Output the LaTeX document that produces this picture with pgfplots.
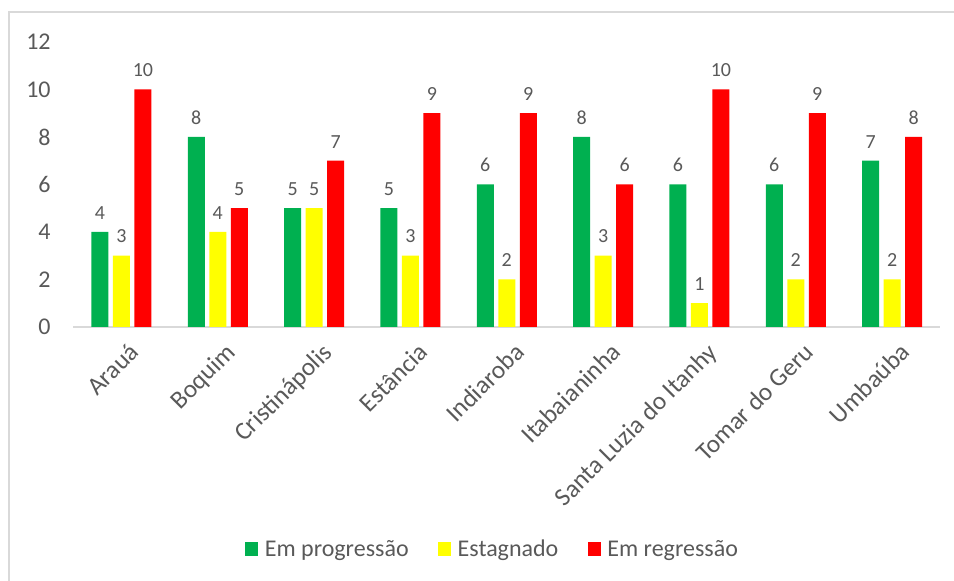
\documentclass[border=0pt]{standalone}
\usepackage{pgfplots}
\pgfplotsset{compat=1.18}
\usepackage{fontspec}
\setmainfont{Carlito}
\definecolor{cgreen}{HTML}{00B050}
\definecolor{cyellow}{HTML}{FFFF00}
\definecolor{cred}{HTML}{FF0000}
\definecolor{tgray}{HTML}{595959}
\definecolor{lgray}{HTML}{D9D9D9}
\begin{document}
\begin{tikzpicture}[x=0.75pt,y=0.75pt]
\path[use as bounding box] (-73.3,-254) rectangle (880.7,327);
\draw[color=lgray, line width=1pt] (-64.3,-270) -- (-64.3,315) -- (900,315);
\begin{axis}[
  at={(0pt,0pt)}, anchor=south west,
  scale only axis, width=650.25pt, height=213.75pt,
  xmin=-0.5, xmax=8.5, ymin=0, ymax=12,
  xtick={0,...,8},
  xticklabels={Arauá, Boquim, Cristinápolis, Estância, Indiaroba, Itabaianinha, Santa Luzia do Itanhy, Tomar do Geru, Umbaúba},
  ytick={0,2,...,12},
  major tick length=0pt,
  axis x line*=bottom,
  axis y line*=left,
  y axis line style={draw=none},
  x axis line style={draw=lgray, line width=1.2pt},
  /pgf/number format/assume math mode=true,
  yticklabel style={font=\fontsize{18}{21}\selectfont, text=tgray, anchor=east, xshift=-13.5pt},
  xticklabel style={font=\fontsize{19}{22}\selectfont, text=tgray, rotate=45, anchor=north east, inner sep=2pt, xshift=-2pt, yshift=-9pt},
  bar width=12.75pt,
  ybar,
  nodes near coords,
  every node near coord/.append style={font=\fontsize{15}{17}\selectfont, text=tgray, yshift=6pt},
  legend style={at={(0.484,-0.779)}, anchor=center, draw=none, fill=none,
    legend columns=-1, font=\fontsize{18}{21}\selectfont, text=tgray,
    /tikz/every odd column/.append style={column sep=3pt},
    /tikz/every even column/.append style={column sep=20pt}},
  legend image code/.code={\fill[#1,draw=none] (0pt,-4.9pt) rectangle (9.75pt,4.9pt);},
  clip=false,
]
\addplot[fill=cgreen, draw=none, bar shift=-16.125pt] coordinates {(0,4) (1,8) (2,5) (3,5) (4,6) (5,8) (6,6) (7,6) (8,7)};
\addplot[fill=cyellow, draw=none, bar shift=0pt] coordinates {(0,3) (1,4) (2,5) (3,3) (4,2) (5,3) (6,1) (7,2) (8,2)};
\addplot[fill=cred, draw=none, bar shift=16.125pt] coordinates {(0,10) (1,5) (2,7) (3,9) (4,9) (5,6) (6,10) (7,9) (8,8)};
\legend{Em progressão, Estagnado, Em regressão}
\end{axis}
\end{tikzpicture}
\end{document}
